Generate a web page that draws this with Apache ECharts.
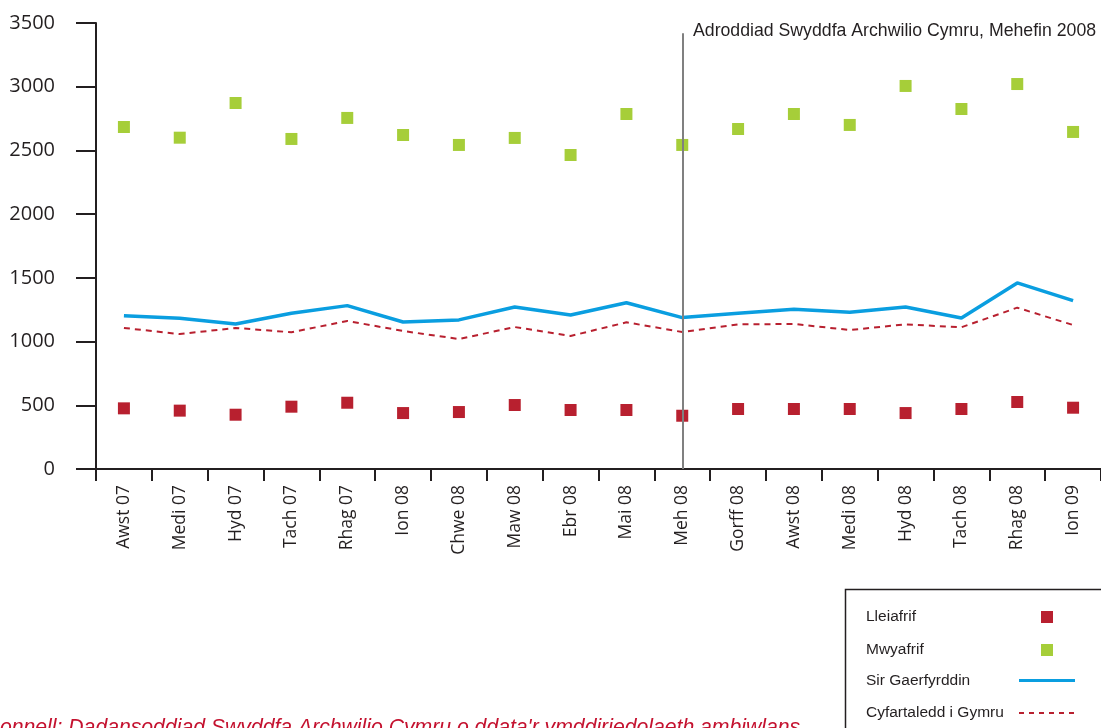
<!DOCTYPE html>
<html>
<head>
<meta charset="utf-8">
<script src="https://cdn.jsdelivr.net/npm/echarts@6/dist/echarts.min.js"></script>
<style>html,body{margin:0;padding:0;background:#fff;}#c{width:1101px;height:728px;}</style>
</head>
<body>
<div id="c"></div>
<script>
var categories = ['Awst 07','Medi 07','Hyd 07','Tach 07','Rhag 07','Ion 08','Chwe 08','Maw 08','Ebr 08','Mai 08','Meh 08','Gorff 08','Awst 08','Medi 08','Hyd 08','Tach 08','Rhag 08','Ion 09'];
var lleiafrif = [476,458,426,489,520,439,447,502,463,463,418,471,471,471,439,471,526,481];
var mwyafrif = [2684,2600,2872,2590,2755,2621,2543,2598,2464,2786,2543,2668,2786,2700,3006,2825,3021,2645];
var sirGaerfyrddin = [1203,1183,1138,1222,1282,1154,1170,1271,1209,1305,1188,1222,1253,1230,1271,1185,1460,1321];
var cyfartaleddCymru = [1107,1059,1107,1073,1162,1083,1020,1114,1044,1151,1075,1135,1138,1091,1135,1112,1266,1130];
var yTicks = [0,500,1000,1500,2000,2500,3000,3500];
var seriesNames = ['Lleiafrif','Mwyafrif','Sir Gaerfyrddin','Cyfartaledd i Gymru'];
var markerCategory = 'Meh 08';
var markerTop = 3420;
var annotation = 'Adroddiad Swyddfa Archwilio Cymru, Mehefin 2008';
var sourceText = "Ffynhonnell: Dadansoddiad Swyddfa Archwilio Cymru o ddata'r ymddiriedolaeth ambiwlans";

var axisColor = '#231f20';
var red = '#b8202f';
var green = '#a6ce39';
var blue = '#0a9ee0';

var chart = echarts.init(document.getElementById('c'), null, {renderer:'canvas'});
var option = {
  animation: false,
  backgroundColor: '#fff',
  grid: {left: 96, top: 23, width: 1008, height: 446, containLabel: false},
  xAxis: {
    type: 'category',
    data: categories,
    boundaryGap: true,
    axisLine: {show: true, lineStyle: {color: axisColor, width: 2}},
    axisTick: {show: true, length: 12, lineStyle: {color: axisColor, width: 2}},
    axisLabel: {rotate: 90, margin: 16, color: axisColor, fontFamily: 'Open Sans', fontSize: 17.5},
    splitLine: {show: false}
  },
  yAxis: {
    type: 'value',
    min: yTicks[0],
    max: yTicks[yTicks.length-1],
    interval: yTicks[1]-yTicks[0],
    axisLine: {show: true, lineStyle: {color: axisColor, width: 2}},
    axisTick: {show: true, length: 20, lineStyle: {color: axisColor, width: 2}},
    axisLabel: {margin: 41, color: axisColor, fontFamily: 'Open Sans', fontSize: 20, formatter: function(v){ return String(v); }},
    splitLine: {show: false}
  },
  series: [
    {
      name: seriesNames[2], type: 'line', data: sirGaerfyrddin, symbol: 'none',
      lineStyle: {color: blue, width: 3.5}, z: 3
    },
    {
      name: seriesNames[3], type: 'line', data: cyfartaleddCymru, symbol: 'none',
      lineStyle: {color: red, width: 2, type: [6,5]}, z: 3
    },
    {
      name: seriesNames[0], type: 'scatter', data: lleiafrif, symbol: 'rect', symbolSize: 12,
      itemStyle: {color: red, opacity: 1}, z: 4
    },
    {
      name: seriesNames[1], type: 'scatter', data: mwyafrif, symbol: 'rect', symbolSize: 12,
      itemStyle: {color: green, opacity: 1}, z: 4,
      markLine: {
        silent: true, symbol: ['none','none'], label: {show: false},
        lineStyle: {color: '#808080', width: 2, type: 'solid'},
        data: [[{coord: [markerCategory, 0]}, {coord: [markerCategory, markerTop]}]]
      }
    }
  ],
  graphic: [
    {type: 'text', left: 693, top: 22, style: {text: annotation, font: '17.7px "Liberation Sans", Arial, sans-serif', fill: '#231f20'}},
    {type: 'text', x: -53, y: 728, style: {text: sourceText, font: 'italic 21.2px "Liberation Sans", Arial, sans-serif', fill: '#c4122f', textVerticalAlign: 'middle'}},
    {type: 'rect', shape: {x: 845.5, y: 589.5, width: 300, height: 200}, style: {fill: '#fff', stroke: axisColor, lineWidth: 1.5}},
    {type: 'text', x: 866, y: 617, style: {text: seriesNames[0], font: '15.5px "Liberation Sans", Arial, sans-serif', fill: '#231f20', textVerticalAlign: 'middle'}},
    {type: 'text', x: 866, y: 649.5, style: {text: seriesNames[1], font: '15.5px "Liberation Sans", Arial, sans-serif', fill: '#231f20', textVerticalAlign: 'middle'}},
    {type: 'text', x: 866, y: 681, style: {text: seriesNames[2], font: '15.5px "Liberation Sans", Arial, sans-serif', fill: '#231f20', textVerticalAlign: 'middle'}},
    {type: 'text', x: 866, y: 713, style: {text: seriesNames[3], font: '15.5px "Liberation Sans", Arial, sans-serif', fill: '#231f20', textVerticalAlign: 'middle'}},
    {type: 'rect', shape: {x: 1041, y: 611, width: 12, height: 12}, style: {fill: red}},
    {type: 'rect', shape: {x: 1041, y: 644, width: 12, height: 12}, style: {fill: green}},
    {type: 'line', shape: {x1: 1019, y1: 680.5, x2: 1075, y2: 680.5}, style: {stroke: blue, lineWidth: 3}},
    {type: 'line', shape: {x1: 1019, y1: 713, x2: 1074, y2: 713}, style: {stroke: red, lineWidth: 2, lineDash: [5,5]}}
  ]
};
chart.setOption(option);
</script>
</body>
</html>
